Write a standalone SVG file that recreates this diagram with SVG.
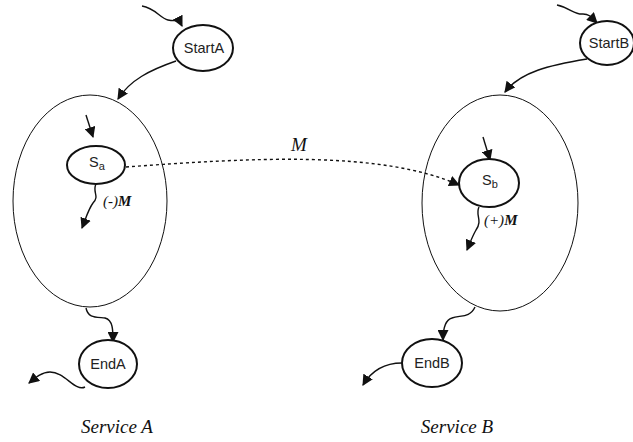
<svg xmlns="http://www.w3.org/2000/svg" width="633" height="442" viewBox="0 0 633 442">
<style>
.node{fill:#fff;stroke:#111;stroke-width:2}
.svc{fill:none;stroke:#111;stroke-width:1}
.lbl{font-family:"Liberation Sans",Arial,sans-serif;font-size:14.5px;fill:#222;text-anchor:middle}
.c{fill:none;stroke:#111;stroke-width:1.4;marker-end:url(#ah)}
.d{fill:none;stroke:#111;stroke-width:1.4;stroke-dasharray:3,3;marker-end:url(#ah)}
.it{font-family:"Liberation Serif","Times New Roman",serif;font-style:italic;fill:#111}
</style>
<defs>
<marker id="ah" viewBox="0 0 10 10" refX="9" refY="5" markerWidth="11" markerHeight="11" markerUnits="userSpaceOnUse" orient="auto">
<path d="M0,0 L10,5 L0,10 z" fill="#111"/>
</marker>
</defs>
<g id="serviceA"><ellipse class="svc" cx="90" cy="201" rx="77" ry="106"/></g>
<g id="serviceB"><ellipse class="svc" cx="500" cy="203" rx="78" ry="108"/></g>
<g id="connectors">
<path class="c" d="M142,6 C155,8 160,18 168,20 C176,22 178,18 182,26"/>
<path class="c" d="M176,61 C150,70 130,80 118,99"/>
<path class="c" d="M86,115 L93,137"/>
<path class="d" d="M126,167 C250,158 380,150 459,185"/>
<path class="c" d="M96,184 C92,192 100,196 93,203 C88,210 86,218 82,228"/>
<path class="c" d="M86,308 C88,318 95,317 105,318 C113,320 113,330 113,342"/>
<path class="c" d="M85,387 C75,392 65,372 50,372 C42,372 35,378 29,383"/>
<path class="c" d="M557,5 C570,8 575,15 583,14 C590,14 592,18 597,23"/>
<path class="c" d="M587,59 C550,65 520,72 505,92"/>
<path class="c" d="M483,137 L490,160"/>
<path class="c" d="M479,207 C475,215 483,220 476,230 C472,237 470,243 467,250"/>
<path class="c" d="M475,307 C470,318 460,315 452,318 C445,320 443,330 443,340"/>
<path class="c" d="M402,363 C385,363 372,370 363,385"/>
</g>
<g id="StartA"><ellipse class="node" cx="203" cy="48" rx="30" ry="23"/><text class="lbl" x="204" y="53">StartA</text></g>
<g id="StartB"><ellipse class="node" cx="607" cy="43" rx="27" ry="22"/><text class="lbl" x="609" y="48">StartB</text></g>
<g id="Sa"><ellipse class="node" cx="96" cy="165" rx="29" ry="19"/><text class="lbl" x="97" y="167" font-size="14">S<tspan font-size="11" dy="3">a</tspan></text></g>
<g id="Sb"><ellipse class="node" cx="489" cy="183" rx="30" ry="24"/><text class="lbl" x="490" y="185" font-size="14">S<tspan font-size="11" dy="3">b</tspan></text></g>
<g id="EndA"><ellipse class="node" cx="108" cy="364" rx="29" ry="24"/><text class="lbl" x="108" y="369">EndA</text></g>
<g id="EndB"><ellipse class="node" cx="432" cy="363" rx="30" ry="24"/><text class="lbl" x="432" y="368">EndB</text></g>
<text class="it" x="299" y="151" font-size="19" text-anchor="middle">M</text>
<text class="it" x="103" y="206" font-size="15">(-)<tspan font-weight="bold">M</tspan></text>
<text class="it" x="484" y="225" font-size="15">(+)<tspan font-weight="bold">M</tspan></text>
<text class="it" x="117" y="433" font-size="19" text-anchor="middle">Service A</text>
<text class="it" x="457" y="433" font-size="19" text-anchor="middle">Service B</text>
</svg>
